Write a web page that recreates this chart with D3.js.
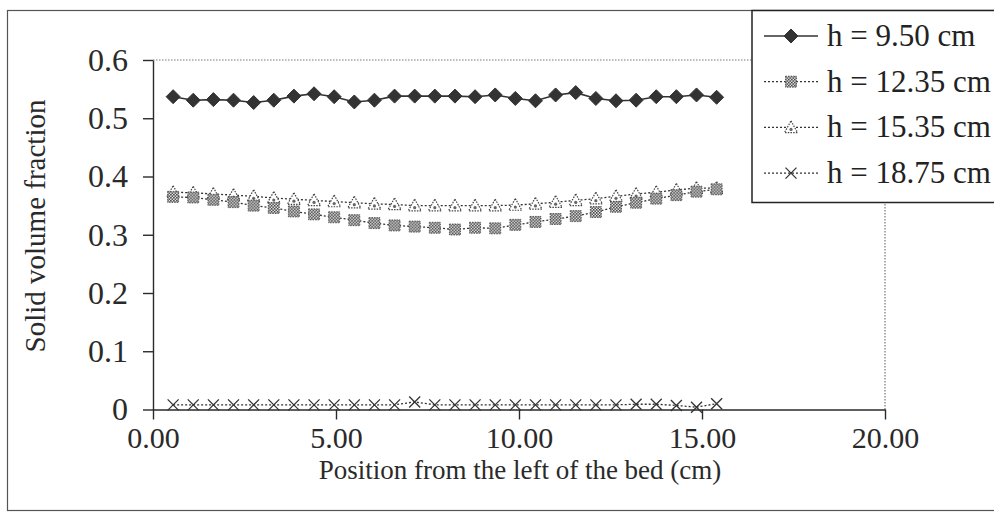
<!DOCTYPE html>
<html>
<head>
<meta charset="utf-8">
<script src="https://cdn.jsdelivr.net/npm/d3@7"></script>
<style>
  html, body { margin: 0; padding: 0; background: #fff; }
  svg { display: block; font-family: "Liberation Serif", "Times New Roman", serif; }
</style>
</head>
<body>
<svg id="chart" width="994" height="517"></svg>
<script>
// Sample positions across the bed (cm)
const positions = [0.55, 1.10, 1.65, 2.20, 2.75, 3.30, 3.85, 4.40, 4.95, 5.50,
  6.05, 6.60, 7.15, 7.70, 8.25, 8.80, 9.35, 9.90, 10.45, 11.00,
  11.55, 12.10, 12.65, 13.20, 13.75, 14.30, 14.85, 15.40];

const seriesNames = ["h = 9.50 cm", "h = 12.35 cm", "h = 15.35 cm", "h = 18.75 cm"];

const h950 = [0.537, 0.531, 0.532, 0.531, 0.527, 0.531, 0.538, 0.542, 0.537, 0.528,
  0.531, 0.538, 0.538, 0.538, 0.538, 0.537, 0.540, 0.534, 0.530, 0.540,
  0.544, 0.534, 0.530, 0.531, 0.537, 0.537, 0.540, 0.536];

const h1235 = [0.365, 0.364, 0.360, 0.356, 0.350, 0.346, 0.340, 0.335, 0.330, 0.325,
  0.320, 0.316, 0.314, 0.312, 0.309, 0.312, 0.311, 0.317, 0.322, 0.327,
  0.332, 0.339, 0.348, 0.355, 0.362, 0.368, 0.374, 0.378];

const h1535 = [0.373, 0.372, 0.370, 0.368, 0.366, 0.363, 0.361, 0.359, 0.357, 0.355,
  0.353, 0.352, 0.350, 0.350, 0.350, 0.350, 0.350, 0.351, 0.353, 0.356,
  0.359, 0.362, 0.366, 0.370, 0.373, 0.377, 0.380, 0.380];

const h1875 = [0.008, 0.008, 0.008, 0.008, 0.008, 0.008, 0.008, 0.008, 0.008, 0.008,
  0.008, 0.008, 0.013, 0.008, 0.008, 0.008, 0.008, 0.008, 0.008, 0.008,
  0.008, 0.008, 0.008, 0.009, 0.009, 0.007, 0.004, 0.010];

const xTicks = [0, 5, 10, 15, 20];
const yTicks = [0, 0.1, 0.2, 0.3, 0.4, 0.5, 0.6];

const svg = d3.select("#chart");
const ink = "#2a2a2a";

// Checkered fill used by the patterned markers
const defs = svg.append("defs");
const pat = defs.append("pattern").attr("id", "checker")
  .attr("width", 3).attr("height", 3).attr("patternUnits", "userSpaceOnUse");
pat.append("rect").attr("width", 3).attr("height", 3).attr("fill", "#fff");
pat.append("rect").attr("width", 1.6).attr("height", 1.6).attr("fill", "#333");
pat.append("rect").attr("x", 1.5).attr("y", 1.5).attr("width", 1.5).attr("height", 1.5).attr("fill", "#333");

// Chart frame
svg.append("rect").attr("x", 7.5).attr("y", 10.5).attr("width", 1000).attr("height", 500)
  .attr("fill", "none").attr("stroke", "#555").attr("stroke-width", 1.2);

const plot = { left: 153, right: 885, top: 60, bottom: 409.5 };
const x = d3.scaleLinear().domain([0, 20]).range([plot.left, plot.right]);
const y = d3.scaleLinear().domain([0, 0.6]).range([plot.bottom, plot.top]);

// Plot-area border (dotted top and right)
svg.append("path")
  .attr("d", `M${plot.left},${plot.top}H${plot.right}V${plot.bottom}`)
  .attr("fill", "none").attr("stroke", "#777").attr("stroke-width", 1.2)
  .attr("stroke-dasharray", "1.5,1.5");

// Axes
const xAxis = d3.axisBottom(x).tickValues(xTicks).tickFormat(d3.format(".2f"))
  .tickSizeInner(10).tickSizeOuter(0).tickPadding(7);
const yAxis = d3.axisLeft(y).tickValues(yTicks).tickFormat(d => d === 0 ? "0" : d3.format(".1f")(d))
  .tickSizeInner(10).tickSizeOuter(0).tickPadding(15);

const gx = svg.append("g").attr("transform", `translate(0,${plot.bottom})`).call(xAxis);
const gy = svg.append("g").attr("transform", `translate(${plot.left},0)`).call(yAxis);
[gx, gy].forEach(g => {
  g.selectAll("path, line").attr("stroke", ink).attr("stroke-width", 1.4);
  g.selectAll("text").attr("fill", ink)
    .attr("font-family", "Liberation Serif, Times New Roman, serif");
});
gx.selectAll("text").attr("font-size", 30);
gy.selectAll("text").attr("font-size", 32);

// Axis titles
svg.append("text").attr("x", (plot.left + plot.right) / 2 + 1).attr("y", 479)
  .attr("text-anchor", "middle").attr("font-size", 27).attr("fill", ink)
  .text("Position from the left of the bed (cm)");
svg.append("text").attr("transform", `translate(45,226) rotate(-90)`)
  .attr("text-anchor", "middle").attr("font-size", 29).attr("fill", ink)
  .text("Solid volume fraction");

// Marker painters
function diamond(g, s) {
  g.append("path").attr("d", `M0,${-s}L${s},0L0,${s}L${-s},0Z`)
    .attr("fill", "#333").attr("stroke", "#333").attr("stroke-width", 1);
}
function square(g, s) {
  g.append("rect").attr("x", -s).attr("y", -s).attr("width", 2 * s).attr("height", 2 * s)
    .attr("fill", "url(#checker)").attr("stroke", "#444").attr("stroke-width", 0.8)
    .attr("stroke-dasharray", "1.5,1");
}
function triangle(g, s) {
  g.append("path").attr("d", `M0,${-s}L${s},${s * 0.8}L${-s},${s * 0.8}Z`)
    .attr("fill", "#fff").attr("stroke", "#444").attr("stroke-width", 1.2)
    .attr("stroke-dasharray", "1.5,1.2");
  g.append("circle").attr("cy", 2).attr("r", 1.6).attr("fill", "#666");
}
function cross(g, s) {
  g.append("path").attr("d", `M${-s},${-s}L${s},${s}M${s},${-s}L${-s},${s}`)
    .attr("fill", "none").attr("stroke", "#333").attr("stroke-width", 1.3);
}

const series = [
  { name: seriesNames[0], values: h950, dash: null, marker: diamond, size: 7 },
  { name: seriesNames[1], values: h1235, dash: "2,2", marker: square, size: 5.5 },
  { name: seriesNames[2], values: h1535, dash: "2,2", marker: triangle, size: 6.5 },
  { name: seriesNames[3], values: h1875, dash: "2,2", marker: cross, size: 5.5 }
];

const line = d3.line().x(d => x(d[0])).y(d => y(d[1]));

// Draw lowest series first so the upper ones sit on top
series.slice().reverse().forEach(s => {
  const pts = positions.map((p, i) => [p, s.values[i]]);
  svg.append("path").datum(pts).attr("d", line)
    .attr("fill", "none").attr("stroke", "#333").attr("stroke-width", s.dash ? 1.3 : 1.6)
    .attr("stroke-dasharray", s.dash);
  const mg = svg.append("g");
  pts.forEach(d => {
    const g = mg.append("g").attr("transform", `translate(${x(d[0])},${y(d[1])})`);
    s.marker(g, s.size);
  });
});

// Legend
const legend = svg.append("g");
legend.append("rect").attr("x", 752).attr("y", 10.5).attr("width", 260).attr("height", 192)
  .attr("fill", "#fff").attr("stroke", "#222").attr("stroke-width", 1.5);
series.forEach((s, i) => {
  const cy = 36 + i * 45.7;
  const row = legend.append("g");
  row.append("line").attr("x1", 764).attr("x2", 818).attr("y1", cy).attr("y2", cy)
    .attr("stroke", "#333").attr("stroke-width", s.dash ? 1.3 : 1.6)
    .attr("stroke-dasharray", s.dash);
  const g = row.append("g").attr("transform", `translate(791,${cy})`);
  s.marker(g, s.size);
  row.append("text").attr("x", 827).attr("y", cy + 10).attr("font-size", 31).attr("fill", "#222")
    .text(s.name);
});
</script>
</body>
</html>
